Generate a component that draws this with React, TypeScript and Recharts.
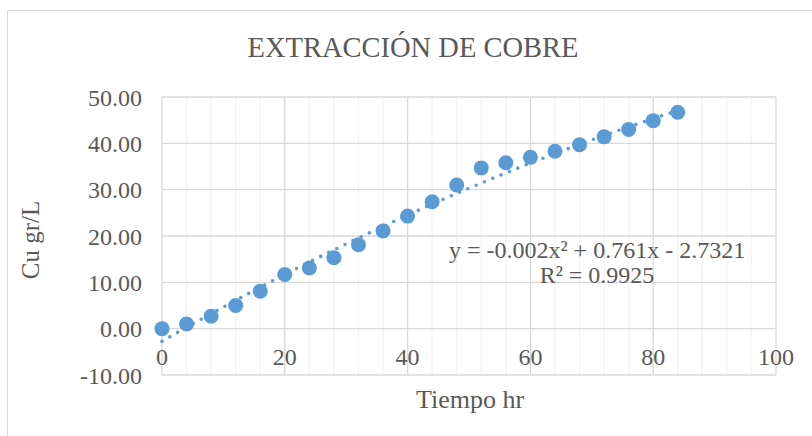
import { ScatterChart, Scatter, XAxis, YAxis, CartesianGrid } from 'recharts';

// Tiempo (hr) vs Cu (gr/L)
const tiempo = [0, 4, 8, 12, 16, 20, 24, 28, 32, 36, 40, 44, 48, 52, 56, 60, 64, 68, 72, 76, 80, 84];
const cobre = [0.0, 1.0, 2.7, 5.0, 8.1, 11.7, 13.1, 15.3, 18.1, 21.1, 24.3, 27.4, 31.0, 34.7, 35.8, 37.0, 38.3, 39.7, 41.4, 43.0, 44.9, 46.7];
// polynomial trendline values at the same times (y = -0.002x² + 0.761x - 2.7321)
const tendencia = [-2.73, 0.28, 3.23, 6.11, 8.93, 11.69, 14.38, 17.01, 19.57, 22.07, 24.51, 26.88, 29.19, 31.43, 33.61, 35.73, 37.78, 39.77, 41.69, 43.55, 45.35, 47.08];

const xTicks = [0, 20, 40, 60, 80, 100];
const xMinor = [4, 8, 12, 16, 24, 28, 32, 36, 44, 48, 52, 56, 64, 68, 72, 76, 84, 88, 92, 96];
const yTicks = [-10, 0, 10, 20, 30, 40, 50];

const FONT = '"Liberation Serif", "Times New Roman", serif';
const TEXT = '#595959';
const BLUE = '#5B9BD5';

const puntos = tiempo.map((x, i) => ({ x, y: cobre[i] }));
const lineaTendencia = tiempo.map((x, i) => ({ x, y: tendencia[i] }));

function Marker(props: any) {
  return <circle cx={props.cx} cy={props.cy} r={7.5} fill={BLUE} />;
}

function NoMarker() {
  return <g />;
}

function XTick(props: any) {
  const { x, y, payload } = props;
  return (
    <text x={x} y={y - 10} textAnchor="middle" fill={TEXT} fontSize={24} fontFamily={FONT}>
      {payload.value}
    </text>
  );
}

export default function App() {
  return (
    <div style={{ position: 'absolute', left: 0, top: 0, width: 812, height: 436, overflow: 'hidden', background: '#fff' }}>
      <div
        style={{
          position: 'absolute',
          left: 7,
          top: 10,
          width: 830,
          height: 450,
          border: '1px solid #D9D9D9',
          boxSizing: 'border-box',
        }}
      />
      <ScatterChart width={812} height={436} margin={{ top: 97, right: 36, bottom: 0, left: 12 }}>
        <CartesianGrid verticalValues={xMinor} horizontal={false} stroke="#F2F2F2" strokeWidth={1.3} />
        <CartesianGrid verticalValues={xTicks} horizontalValues={yTicks} stroke="#D9D9D9" strokeWidth={1.3} />
        <XAxis
          type="number"
          dataKey="x"
          domain={[0, 100]}
          ticks={xTicks}
          axisLine={false}
          tickLine={false}
          tickSize={0}
          tickMargin={0}
          height={61}
          tick={<XTick />}
        />
        <YAxis
          type="number"
          dataKey="y"
          domain={[-10, 50]}
          ticks={yTicks}
          axisLine={false}
          tickLine={false}
          tickSize={0}
          tickMargin={20}
          width={150}
          tickFormatter={(v: number) => v.toFixed(2)}
          tick={{ fill: TEXT, fontSize: 24, fontFamily: FONT }}
        />
        <Scatter data={puntos} shape={<Marker />} isAnimationActive={false} />
        <Scatter
          data={lineaTendencia}
          shape={<NoMarker />}
          line={{ stroke: BLUE, strokeWidth: 3.6, strokeDasharray: '0 9', strokeLinecap: 'round' }}
          lineJointType="monotoneX"
          isAnimationActive={false}
        />
      </ScatterChart>
      <svg
        width={812}
        height={436}
        style={{ position: 'absolute', left: 0, top: 0, pointerEvents: 'none' }}
        fontFamily={FONT}
        fill={TEXT}
      >
        <text x={413} y={57} textAnchor="middle" fontSize={28.5}>
          EXTRACCIÓN DE COBRE
        </text>
        <text x={39} y={240} textAnchor="middle" fontSize={25} transform="rotate(-90 39 240)">
          Cu gr/L
        </text>
        <text x={470} y={408} textAnchor="middle" fontSize={26}>
          Tiempo hr
        </text>
        <text x={597} y={258} textAnchor="middle" fontSize={24}>
          y = -0.002x² + 0.761x - 2.7321
        </text>
        <text x={597} y={283} textAnchor="middle" fontSize={24}>
          R² = 0.9925
        </text>
      </svg>
    </div>
  );
}
